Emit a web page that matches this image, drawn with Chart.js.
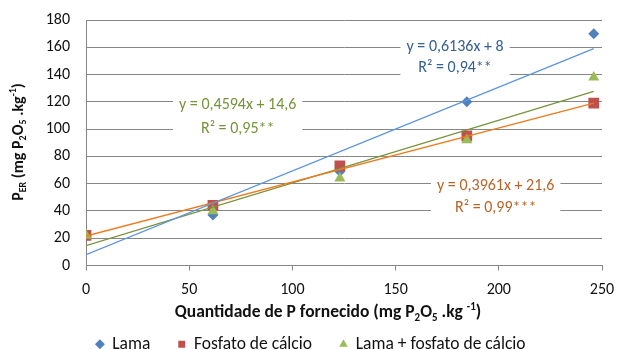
<!DOCTYPE html>
<html>
<head>
<meta charset="utf-8">
<script src="https://cdn.jsdelivr.net/npm/chart.js@4.4.1/dist/chart.umd.min.js"></script>
<style>
html,body{margin:0;padding:0;background:#fff;}
#wrap{width:617px;height:350px;position:relative;}
</style>
</head>
<body>
<div id="wrap"><canvas id="c" width="617" height="350"></canvas></div>
<script>
// ---- data ----
const xValues = [0, 61.5, 123, 184.5, 246];
const lama = [22, 37, 69, 120, 170];
const fosfato = [22, 44, 73, 95, 119];
const lamaFosfato = [22, 40, 64, 92, 138];
const seriesNames = ['Lama', 'Fosfato de cálcio', 'Lama + fosfato de cálcio'];
const slopes = [0.6136, 0.3961, 0.4594];
const intercepts = [8, 21.6, 14.6];
const eqLines = [
  ['y = 0,6136x + 8', 'R² = 0,94**'],
  ['y = 0,3961x + 21,6', 'R² = 0,99***'],
  ['y = 0,4594x + 14,6', 'R² = 0,95**']
];
// label anchor (data coords): centre x, first-line y, second-line y
const eqAnchorX = [178.8, 198.5, 73.5];
const eqAnchorY1 = [160.5, 58, 117.5];
const eqAnchorY2 = [145, 42, 100];
const eqColors = ['#376092', '#B9652A', '#77933C'];

const FONT = "Carlito, Calibri, Lato, 'Open Sans', sans-serif";
const markerColors = ['#4F81BD', '#C0504D', '#9BBB59'];
const lineColors = ['#5B95DC', '#F07A1E', '#77933C'];
const styles = ['rectRot', 'rect', 'triangle'];
const radii = [5.5, 7.6, 6.4];
const values = [lama, fosfato, lamaFosfato];

const datasets = [];
values.forEach((vals, i) => {
  datasets.push({
    label: seriesNames[i],
    data: xValues.map((x, k) => ({x: x, y: vals[k]})),
    showLine: false,
    pointStyle: styles[i],
    pointRadius: radii[i],
    pointHoverRadius: radii[i],
    backgroundColor: markerColors[i],
    borderColor: markerColors[i],
    borderWidth: 0,
    order: 3 - i
  });
});
values.forEach((vals, i) => {
  const x0 = xValues[0], x1 = xValues[xValues.length - 1];
  datasets.push({
    label: 'trend' + i,
    data: [{x: x0, y: intercepts[i] + slopes[i] * x0}, {x: x1, y: intercepts[i] + slopes[i] * x1}],
    showLine: true,
    pointRadius: 0,
    borderColor: lineColors[i],
    borderWidth: 1.3,
    fill: false,
    order: 0
  });
});

function drawRich(ctx, segs, x, y, size, bold, color, align) {
  const base = (bold ? 'bold ' : '') + size + 'px ' + FONT;
  const small = (bold ? 'bold ' : '') + Math.round(size * 0.65) + 'px ' + FONT;
  let total = 0;
  segs.forEach(s => { ctx.font = s.s ? small : base; total += ctx.measureText(s.t).width; });
  let cx = align === 'center' ? x - total / 2 : x;
  ctx.fillStyle = color;
  ctx.textBaseline = 'middle';
  ctx.textAlign = 'left';
  segs.forEach(s => {
    ctx.font = s.s ? small : base;
    let dy = 0;
    if (s.s === 'sub') dy = size * 0.28;
    if (s.s === 'sup') dy = -size * 0.32;
    ctx.fillText(s.t, cx, y + dy);
    cx += ctx.measureText(s.t).width;
  });
}

const xTitle = [{t: 'Quantidade de P fornecido (mg P'}, {t: '2', s: 'sub'}, {t: 'O'}, {t: '5', s: 'sub'}, {t: ' .kg '}, {t: '-1', s: 'sup'}, {t: ')'}];
const yTitle = [{t: 'P'}, {t: 'ER', s: 'sub'}, {t: ' (mg P'}, {t: '2', s: 'sub'}, {t: 'O'}, {t: '5', s: 'sub'}, {t: ' .kg'}, {t: '-1', s: 'sup'}, {t: ')'}];

const extras = {
  id: 'extras',
  beforeDatasetsDraw(chart) {
    const ctx = chart.ctx;
    const xs = chart.scales.x, ys = chart.scales.y;
    ctx.save();
    eqLines.forEach((lines, i) => {
      const cx = xs.getPixelForValue(eqAnchorX[i]);
      const y1 = ys.getPixelForValue(eqAnchorY1[i]);
      const y2 = ys.getPixelForValue(eqAnchorY2[i]);
      ctx.font = '16px ' + FONT;
      const w = Math.max(ctx.measureText(lines[0]).width, ctx.measureText(lines[1]).width) + 12;
      ctx.fillStyle = '#fff';
      ctx.fillRect(cx - w / 2, y1 - 12, w, (y2 - y1) + 24);
      ctx.fillStyle = eqColors[i];
      ctx.textAlign = 'center';
      ctx.textBaseline = 'middle';
      ctx.fillText(lines[0], cx, y1);
      ctx.fillText(lines[1], cx, y2);
    });
    ctx.restore();
  },
  afterDraw(chart) {
    const ctx = chart.ctx;
    ctx.save();
    drawRich(ctx, xTitle, 328, 313, 17.5, true, '#111', 'center');
    ctx.translate(19, 142);
    ctx.rotate(-Math.PI / 2);
    drawRich(ctx, yTitle, 0, 0, 16, true, '#111', 'center');
    ctx.restore();
  }
};

new Chart(document.getElementById('c'), {
  type: 'scatter',
  data: {datasets: datasets},
  plugins: [extras],
  options: {
    responsive: false,
    animation: false,
    devicePixelRatio: 1,
    layout: {padding: {left: 20, right: 15, top: 20, bottom: -13}},
    scales: {
      x: {
        type: 'linear', min: 0, max: 250,
        afterFit(s) { s.height = 42; s.paddingLeft = 0; s.paddingRight = 0; },
        ticks: {stepSize: 50, padding: 10, color: '#111', font: {family: FONT, size: 16}},
        grid: {drawOnChartArea: false, drawTicks: true, tickLength: 5, color: '#868686'},
        border: {display: true, color: '#868686'}
      },
      y: {
        type: 'linear', min: 0, max: 180,
        afterFit(s) { s.width = 66; s.paddingTop = 0; s.paddingBottom = 0; },
        ticks: {stepSize: 20, padding: 16, color: '#111', font: {family: FONT, size: 16}},
        grid: {drawTicks: false, color: '#868686'},
        border: {display: true, color: '#868686'}
      }
    },
    plugins: {
      tooltip: {enabled: false},
      legend: {
        position: 'bottom',
        labels: {
          usePointStyle: true,
          boxWidth: 7, boxHeight: 7,
          padding: 28,
          color: '#111',
          font: {family: FONT, size: 17.5},
          filter: item => item.datasetIndex < 3,
          sort: (a, b) => a.datasetIndex - b.datasetIndex
        }
      }
    }
  }
});
</script>
</body>
</html>
